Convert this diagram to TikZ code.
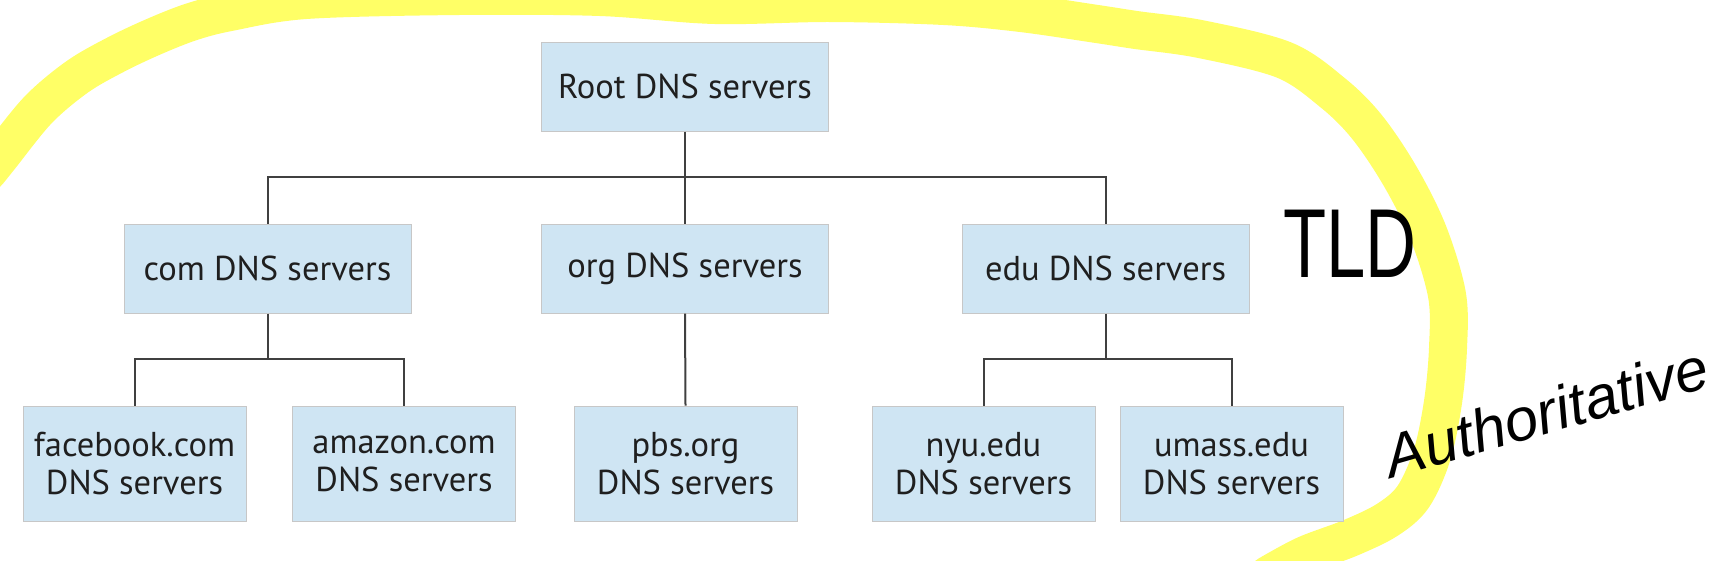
\documentclass[tikz,border=0pt]{standalone}
\usepackage{fontspec}
\setmainfont{PT Sans}
\newfontfamily\handfont{Liberation Sans}
\usetikzlibrary{calc}
\definecolor{boxblue}{RGB}{207,229,243}
\definecolor{hilite}{RGB}{255,255,102}
\definecolor{linegray}{RGB}{64,64,64}
\tikzset{
  srv/.style={draw=black!22, line width=1pt, fill=boxblue, inner sep=0pt, align=center,
    font=\fontsize{34.5}{38}\selectfont, text=black!88},
  srvwide/.style={srv, minimum width=287pt, minimum height=89pt},
  srvleaf/.style={srv, minimum width=223pt, minimum height=115pt},
  link/.style={draw=linegray, line width=2pt},
  hand/.style={text=black, inner sep=0pt}
}
\begin{document}
\begin{tikzpicture}[x=1pt,y=-1pt]
\clip (0,0) rectangle (1724,560);
\fill[white] (0,0) rectangle (1724,560);
% highlighter stroke
\draw[hilite, line width=38pt, line cap=round, line join=round]
  plot[smooth, tension=0.55] coordinates {(-12,172) (0,157) (38,110) (77,77) (115,55) (153,37) (191,22) (230,12) (306,0) (459,-4) (600,-3) (715,5) (830,3) (944,6) (1021,13) (1097,24) (1136,30) (1200,39) (1284,60) (1333,93) (1367,127) (1400,176) (1428,232) (1447,295) (1448,348) (1443,402) (1432,455) (1413,497) (1387,520) (1350,538) (1305,555) (1268,575)};
% nodes
\node[srvwide] (root) at (685,86.5) {Root DNS servers};
\node[srvwide] (com) at (267.5,268.5) {com DNS servers};
\node[srvwide] (org) at (685,268.5) {org DNS servers};
\node[srvwide] (edu) at (1105.5,268.5) {edu DNS servers};
\node[srvleaf] (fb) at (134.5,463.5) {facebook.com\\DNS servers};
\node[srvleaf] (amz) at (404,463.5) {amazon.com\\DNS servers};
\node[srvleaf] (pbs) at (685.5,463.5) {pbs.org\\DNS servers};
\node[srvleaf] (nyu) at (983.5,463.5) {nyu.edu\\DNS servers};
\node[srvleaf] (uma) at (1231.5,463.5) {umass.edu\\DNS servers};
% connectors
\coordinate (rj) at (685,177);
\coordinate (cj) at (267.5,359);
\coordinate (ej) at (1105.5,359);
\draw[link] (root.south) -- (org.north);
\draw[link] (com.north) |- (rj) -| (edu.north);
\draw[link] (com.south) -- (cj);
\draw[link] (fb.north) |- (cj) -| (amz.north);
\draw[link] (org.south) -- (pbs.north);
\draw[link] (edu.south) -- (ej);
\draw[link] (nyu.north) |- (ej) -| (uma.north);
% handwritten labels
\node[hand, font=\handfont\fontsize{98}{98}\selectfont] (tld) at (1350,244) {\scalebox{0.72}[1]{TLD}};
\node[hand, font=\handfont\itshape\fontsize{60}{60}\selectfont, rotate=16] (auth) at (1546,412) {Authoritative};
\end{tikzpicture}
\end{document}
